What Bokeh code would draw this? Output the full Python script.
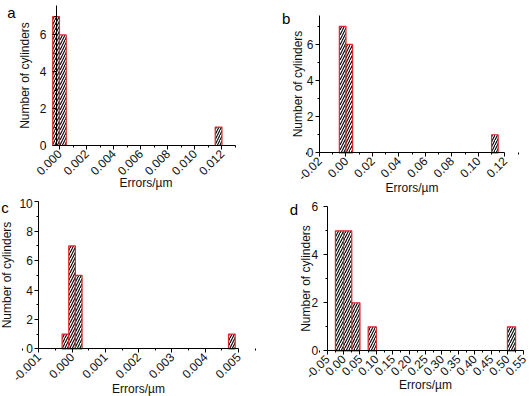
from bokeh.plotting import figure
from bokeh.layouts import column, row
from bokeh.models import (Range1d, FixedTicker, PrintfTickFormatter, Label,
                          ColumnDataSource)
from bokeh.embed import file_html
from bokeh.resources import INLINE

# Histogram bins (centres, width) and counts for the four cases
a_centers = [-0.00025, 0.00025, 0.01175]
a_counts = [7, 6, 1]
a_width = 0.0005

b_centers = [-0.0025, 0.0025, 0.1125]
b_counts = [7, 6, 1]
b_width = 0.005

c_centers = [-0.0002, 0.0, 0.0002, 0.0048]
c_counts = [1, 7, 5, 1]
c_width = 0.0002

d_centers = [-0.0125, 0.0125, 0.0375, 0.0875, 0.5125]
d_counts = [5, 5, 2, 1, 1]
d_width = 0.025

# Axis ticks
a_xticks = [0.0, 0.002, 0.004, 0.006, 0.008, 0.010, 0.012]
b_xticks = [-0.02, 0.0, 0.02, 0.04, 0.06, 0.08, 0.10, 0.12]
c_xticks = [-0.001, 0.0, 0.001, 0.002, 0.003, 0.004, 0.005]
d_xticks = [-0.05, 0.0, 0.05, 0.10, 0.15, 0.20, 0.25, 0.30, 0.35, 0.40,
            0.45, 0.50, 0.55]

FONT = "Liberation Sans"
RED = "#e2262a"
W, H = 265, 198


def minors(ticks, step):
    out = []
    for t in ticks:
        out.append(t - step)
        out.append(t + step)
    return sorted(set(round(v, 6) for v in out))


def panel(letter, centers, counts, width, xlim, ylim, box, xticks, xminor,
          yticks, yminor, xfmt, letter_xy, standoffs):
    # The frame fills the whole canvas; the axes are pinned to the data
    # limits so that the panel letter and the labels are never clipped.
    x0, x1 = xlim
    y0, y1 = ylim
    L, R, T, B = box
    kx = (R - L) / (x1 - x0)
    ky = (B - T) / (y1 - y0)
    xr = Range1d(x0 - L / kx, x1 + (W - R) / kx)
    yr = Range1d(y0 - (H - B) / ky, y1 + T / ky)

    p = figure(width=W, height=H, output_backend="svg",
               toolbar_location=None, x_range=xr, y_range=yr,
               min_border=0)
    p.outline_line_color = None
    p.grid.visible = False
    p.background_fill_color = "white"

    src = ColumnDataSource(dict(x=centers, top=counts))
    p.vbar(x="x", top="top", width=width, bottom=0, source=src,
           fill_color="white", line_color=RED, line_width=1.2,
           hatch_pattern="/", hatch_color="black", hatch_scale=5,
           hatch_weight=1.1)

    for ax in (p.xaxis[0], p.yaxis[0]):
        ax.axis_line_color = "black"
        ax.axis_line_width = 1
        ax.major_tick_line_color = "black"
        ax.minor_tick_line_color = "black"
        ax.major_tick_out = 4
        ax.major_tick_in = 0
        ax.minor_tick_out = 2
        ax.minor_tick_in = 0
        ax.major_label_text_font = FONT
        ax.major_label_text_font_size = "12px"
        ax.major_label_text_color = "#111111"
        ax.axis_label_text_font = FONT
        ax.axis_label_text_font_size = "12px"
        ax.axis_label_text_font_style = "normal"
        ax.axis_label_text_color = "#111111"

    xs_title, ys_label, ys_title = standoffs
    p.xaxis.ticker = FixedTicker(ticks=xticks, minor_ticks=xminor)
    p.yaxis.ticker = FixedTicker(ticks=yticks, minor_ticks=yminor)
    p.xaxis.formatter = PrintfTickFormatter(format=xfmt)
    p.xaxis.major_label_orientation = 0.785398
    p.xaxis.major_label_standoff = 2
    p.xaxis.axis_label = "Errors/µm"
    p.yaxis.axis_label = "Number of cylinders"
    p.xaxis.axis_label_standoff = xs_title
    p.yaxis.major_label_standoff = ys_label
    p.yaxis.axis_label_standoff = ys_title
    p.xaxis.fixed_location = y0
    p.yaxis.fixed_location = x0
    p.xaxis.bounds = (x0, x1)
    p.yaxis.bounds = (y0, y1)

    p.add_layout(Label(x=letter_xy[0], y=H - letter_xy[1], x_units="screen",
                       y_units="screen", text=letter, text_font=FONT,
                       text_font_size="15px", text_align="center",
                       text_baseline="middle", text_color="black"))
    return p


pa = panel("a", a_centers, a_counts, a_width, (-0.00022, 0.013), (0, 7.6),
           (56, 235, 5, 145), a_xticks, minors(a_xticks, 0.001),
           [0, 2, 4, 6], [1, 3, 5, 7], "%.3f", (11, 12), (-6, 6, 5))
pb = panel("b", b_centers, b_counts, b_width, (-0.02, 0.12), (0, 7.6),
           (54, 239.3, 15, 152.3), b_xticks, minors(b_xticks, 0.01),
           [0, 2, 4, 6], [1, 3, 5, 7], "%.2f", (20.7, 18), (-6, 2, -1))
pc = panel("c", c_centers, c_counts, c_width, (-0.001, 0.005), (0, 10),
           (38.3, 238, 3.3, 150.3), c_xticks, minors(c_xticks, 0.0005),
           [0, 2, 4, 6, 8, 10], [1, 3, 5, 7, 9], "%.3f", (4.5, 9),
           (-6, 2, 2))
pd_ = panel("d", d_centers, d_counts, d_width, (-0.05, 0.55), (0, 6),
            (61.7, 258.3, 8.3, 152.3), d_xticks, minors(d_xticks, 0.025),
            [0, 2, 4, 6], [1, 3, 5], "%.2f", (28.3, 10.7), (-7, 5, -4))

layout = column(row(pa, pb), row(pc, pd_))
open("out.html", "w").write(file_html(layout, INLINE))
